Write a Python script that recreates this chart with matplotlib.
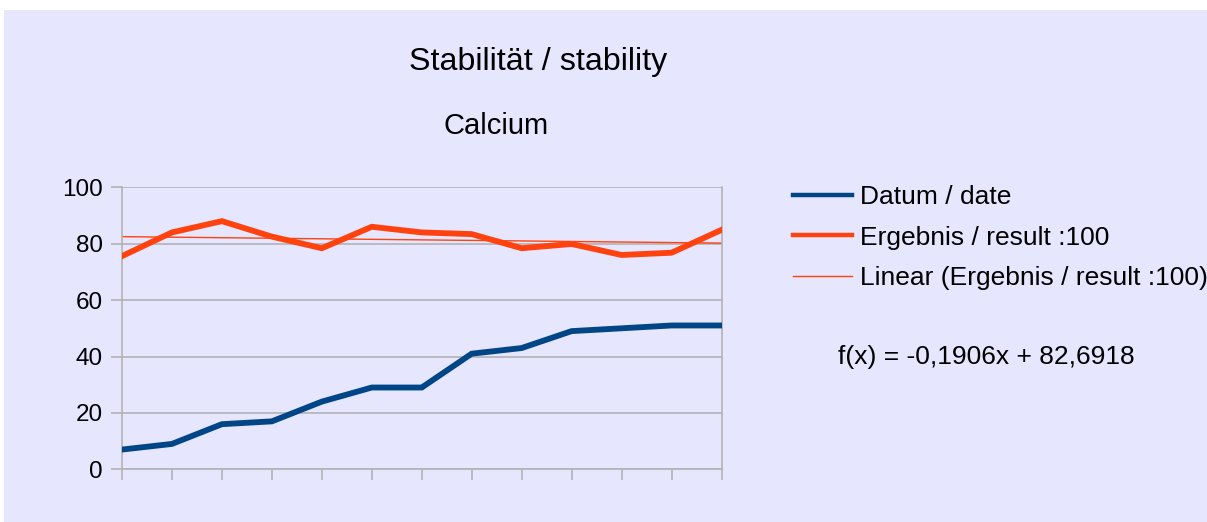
import matplotlib
matplotlib.use("Agg")
import matplotlib.pyplot as plt
from matplotlib.patches import Rectangle
import numpy as np

plt.rcParams['font.family'] = ['Liberation Sans', 'DejaVu Sans']

# Data
datum = [7, 9, 16, 17, 24, 29, 29, 41, 43, 49, 50, 51, 51]
ergebnis = [75.6, 84.0, 88.0, 82.5, 78.4, 86.0, 84.0, 83.4, 78.4, 79.9, 76.0, 76.8, 84.9]
trend_slope = -0.1906
trend_intercept = 82.6918
yticks = [0, 20, 40, 60, 80, 100]
labels = ["Datum / date", "Ergebnis / result :100", "Linear (Ergebnis / result :100)"]

W, H = 1207, 522
fig = plt.figure(figsize=(W / 100, H / 100), dpi=100)
fig.patch.set_facecolor('white')
fig.add_artist(Rectangle((4 / W, 0), 1 - 4 / W, (H - 10) / H, transform=fig.transFigure,
                         facecolor='#E6E6FF', edgecolor='none', zorder=-10))

ax = fig.add_axes([122 / W, (H - 469.3) / H, (721.5 - 122) / W, (469.3 - 187.3) / H])
ax.set_facecolor('none')

x = np.arange(len(datum))
xt = np.arange(1, len(ergebnis) + 1)
trend = trend_slope * xt + trend_intercept

l1, = ax.plot(x, datum, color='#004586', lw=4.2, solid_joinstyle='miter', zorder=3)
l2, = ax.plot(x, ergebnis, color='#FF420E', lw=4.2, solid_joinstyle='miter', zorder=3)
l3, = ax.plot(x, trend, color='#FF420E', lw=1.0, zorder=2)

ax.set_xlim(0, len(datum) - 1)
ax.set_ylim(0, 100)
ax.set_yticks(yticks)
ax.set_xticks(x)
ax.set_xticklabels([])
ax.grid(axis='y', color='#B3B3B3', lw=1.2)
ax.set_axisbelow(True)
for s in ['left', 'right', 'bottom']:
    ax.spines[s].set_color('#B3B3B3')
    ax.spines[s].set_linewidth(1.2)
ax.spines['top'].set_visible(False)
ax.tick_params(axis='y', direction='out', length=8, width=1.2, color='#B3B3B3',
               labelsize=17.5, pad=6, labelcolor='black')
ax.tick_params(axis='x', direction='out', length=8, width=1.2, color='#B3B3B3')

fig.text(538 / W, (H - 62) / H, "Stabilität / stability", ha='center', va='center', fontsize=23.2)
fig.text(496 / W, (H - 126) / H, "Calcium", ha='center', va='center', fontsize=21)

leg = fig.legend([l1, l2, l3], labels, loc='upper left', bbox_to_anchor=(793 / W, (H - 185) / H),
                 frameon=False, fontsize=19, handlelength=2.24, handletextpad=0.3,
                 labelspacing=0.63, borderaxespad=0, borderpad=0)
leg.get_lines()[0].set_linewidth(3.2)
leg.get_lines()[1].set_linewidth(3.2)

fig.text(986 / W, (H - 357) / H, "f(x) = -0,1906x + 82,6918", ha='center', va='center', fontsize=19)

fig.savefig('out.png', dpi=100)
